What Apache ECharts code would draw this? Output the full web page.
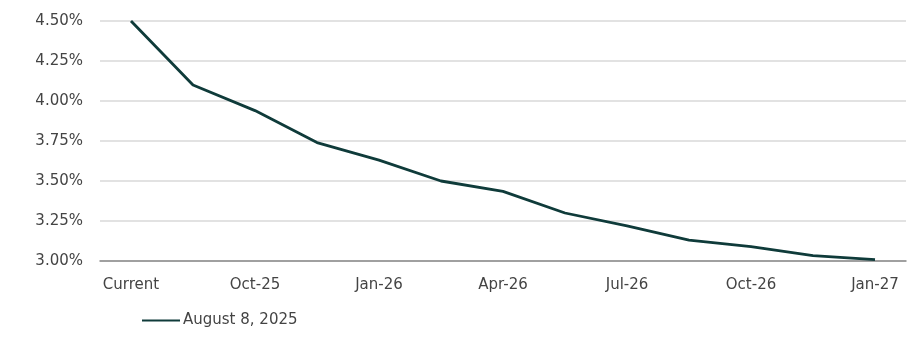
<!DOCTYPE html>
<html><head><meta charset="utf-8">
<script src="https://cdn.jsdelivr.net/npm/echarts@6/dist/echarts.min.js"></script>
<style>html,body{margin:0;padding:0;background:#fff}#c{width:919px;height:342px}</style>
</head><body><div id="c"></div>
<script>
const categories = ['Current','Sep-25','Oct-25','Dec-25','Jan-26','Mar-26','Apr-26','Jun-26','Jul-26','Sep-26','Oct-26','Dec-26','Jan-27'];
const seriesName = 'August 8, 2025';
const rates = [4.50, 4.10, 3.94, 3.74, 3.63, 3.50, 3.435, 3.30, 3.22, 3.13, 3.09, 3.033, 3.008];
const yTicks = [3.00, 3.25, 3.50, 3.75, 4.00, 4.25, 4.50];

const chart = echarts.init(document.getElementById('c'), null, {renderer:'canvas'});
const font = 'DejaVu Sans';
chart.setOption({
  animation:false,
  textStyle:{fontFamily:font},
  grid:{left:100, right:13, top:21, bottom:81, containLabel:false},
  legend:{
    data:[seriesName], left:137, top:308, itemWidth:38, itemHeight:14, itemGap:10,
    textStyle:{fontFamily:font, fontSize:15, color:'#444444', padding:[0,0,0,-2]},
    icon:'path://M0,6L38,6L38,8.2L0,8.2Z'
  },
  xAxis:{
    type:'category', data:categories, boundaryGap:true,
    axisLine:{lineStyle:{color:'#8a8a8a', width:1.5}},
    axisTick:{show:false},
    axisLabel:{interval:1, margin:17, fontSize:15, color:'#444444', fontFamily:font}
  },
  yAxis:{
    type:'value', min:yTicks[0], max:yTicks[yTicks.length-1], interval:0.25,
    axisLine:{show:false}, axisTick:{show:false},
    splitLine:{lineStyle:{color:'#d9d9d9', width:1.5}},
    axisLabel:{margin:17, fontSize:15, color:'#444444', fontFamily:font,
      formatter:v=>v.toFixed(2)+'%'}
  },
  series:[{
    name:seriesName, type:'line', data:rates, symbol:'none', smooth:false,
    lineStyle:{color:'#0f3b3a', width:2.8}, itemStyle:{color:'#0f3b3a'}
  }]
});
</script></body></html>
